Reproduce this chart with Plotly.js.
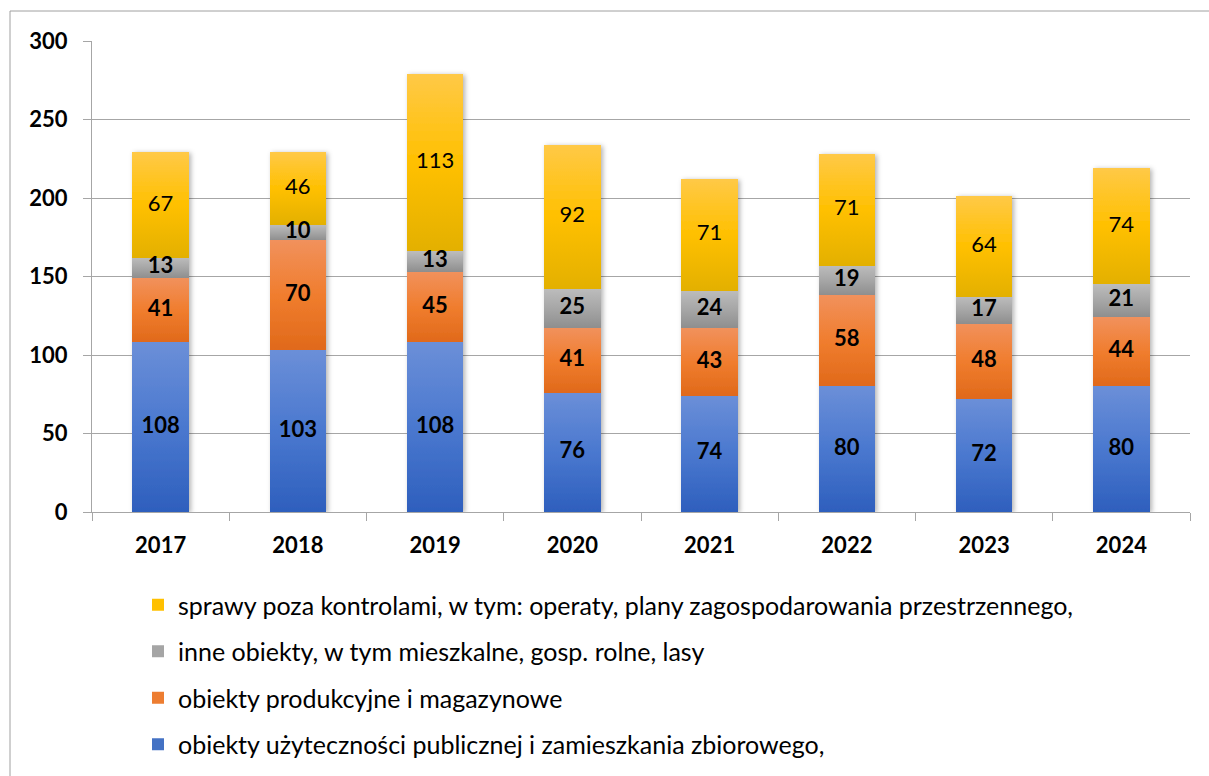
<!DOCTYPE html>
<html>
<head>
<meta charset="utf-8">
<script src="https://cdn.plot.ly/plotly-3.0.1.min.js"></script>
<style>
  html, body { margin: 0; padding: 0; background: #fff; }
  #chart { width: 1209px; height: 776px; }
</style>
</head>
<body>
<div id="chart"></div>
<script>
const years = ['2017', '2018', '2019', '2020', '2021', '2022', '2023', '2024'];
const publicObjects = [108, 103, 108, 76, 74, 80, 72, 80];
const productionObjects = [41, 70, 45, 41, 43, 58, 48, 44];
const otherObjects = [13, 10, 13, 25, 24, 19, 17, 21];
const nonInspection = [67, 46, 113, 92, 71, 71, 64, 74];

const seriesNames = [
  'obiekty użyteczności publicznej i zamieszkania zbiorowego,',
  'obiekty produkcyjne i magazynowe',
  'inne obiekty, w tym mieszkalne, gosp. rolne, lasy',
  'sprawy poza kontrolami, w tym: operaty, plany zagospodarowania przestrzennego,'
];
const seriesData = [publicObjects, productionObjects, otherObjects, nonInspection];
const seriesColors = ['#4472c4', '#ed7d31', '#a5a5a5', '#ffc000'];
// gradient stops (top, middle, bottom) for an Office-like look
const gradientStops = [
  ['#6b8fd8', '#4a78cf', '#2e5fbd'],
  ['#f1915c', '#f07d2e', '#e0691a'],
  ['#bcbcbc', '#a6a6a6', '#8e8e8e'],
  ['#ffc947', '#ffc000', '#e3b000']
];
const labelWeights = ['bold', 'bold', 'bold', 'normal'];

const FONT = 'Lato, "Liberation Sans", sans-serif';

const traces = [];
seriesData.forEach((vals, i) => {
  traces.push({
    type: 'bar',
    x: years,
    y: vals,
    name: seriesNames[i],
    legendgroup: 'g' + i,
    legendrank: 4 - i,
    marker: { color: seriesColors[i], line: { width: 0 } },
    width: 0.41,
    hoverinfo: 'x+y+name'
  });
});

// data labels, centred in each segment
const cum = years.map(() => 0);
seriesData.forEach((vals, i) => {
  const mids = vals.map((v, j) => cum[j] + v / 2);
  vals.forEach((v, j) => { cum[j] += v; });
  traces.push({
    type: 'scatter',
    mode: 'text',
    x: years,
    y: mids,
    text: vals.map(String),
    textposition: 'middle center',
    textfont: { family: FONT, size: 22, color: '#000', weight: labelWeights[i] },
    showlegend: false,
    hoverinfo: 'skip'
  });
});

const plotLeft = 92, plotRight = 1190, plotTop = 41, plotBottom = 512;
const pw = plotRight - plotLeft, ph = plotBottom - plotTop;
const px = p => (p - plotLeft) / pw;
const py = p => (plotBottom - p) / ph;

const layout = {
  width: 1209,
  height: 776,
  margin: { l: plotLeft, r: 1209 - plotRight, t: plotTop, b: 776 - plotBottom, pad: 0, autoexpand: false },
  paper_bgcolor: '#fff',
  plot_bgcolor: '#fff',
  barmode: 'stack',
  font: { family: FONT, color: '#000' },
  showlegend: true,
  legend: {
    orientation: 'v',
    traceorder: 'grouped',
    tracegroupgap: 11,
    x: px(138),
    xanchor: 'left',
    y: py(582),
    yanchor: 'top',
    font: { family: FONT, size: 25, color: '#000' },
    bgcolor: 'rgba(0,0,0,0)'
  },
  xaxis: {
    type: 'category',
    range: [-0.5, 7.5],
    showgrid: false,
    showline: true,
    linecolor: '#a6a6a6',
    linewidth: 1,
    ticks: 'outside',
    tickson: 'boundaries',
    ticklen: 8,
    tickcolor: '#a6a6a6',
    tickfont: { family: FONT, size: 22, color: '#000', weight: 'bold' },
    ticklabelstandoff: 14,
    automargin: false,
    fixedrange: true
  },
  yaxis: {
    range: [0, 300],
    dtick: 50,
    tick0: 0,
    showgrid: true,
    gridcolor: '#a6a6a6',
    gridwidth: 1,
    showline: true,
    linecolor: '#a6a6a6',
    linewidth: 1,
    zeroline: false,
    ticks: 'outside',
    ticklen: 8,
    tickcolor: '#a6a6a6',
    tickfont: { family: FONT, size: 22, color: '#000', weight: 'bold' },
    ticklabelstandoff: 11,
    automargin: false,
    fixedrange: true
  },
  shapes: [{
    type: 'rect',
    xref: 'paper', yref: 'paper',
    x0: px(10), x1: px(1240),
    y0: py(800), y1: py(11),
    line: { color: '#a0a0a0', width: 1 },
    fillcolor: 'rgba(0,0,0,0)',
    layer: 'below'
  }]
};

function applyGradients(gd) {
  try {
    const svg = gd.querySelector('svg.main-svg');
    if (!svg) return;
    const ns = 'http://www.w3.org/2000/svg';
    let defs = svg.querySelector('defs');
    if (!defs) { defs = document.createElementNS(ns, 'defs'); svg.insertBefore(defs, svg.firstChild); }
    gradientStops.forEach((stops, i) => {
      const lg = document.createElementNS(ns, 'linearGradient');
      lg.setAttribute('id', 'barGrad' + i);
      lg.setAttribute('x1', '0'); lg.setAttribute('y1', '0');
      lg.setAttribute('x2', '0'); lg.setAttribute('y2', '1');
      [[0, stops[0]], [0.5, stops[1]], [1, stops[2]]].forEach(([o, c]) => {
        const s = document.createElementNS(ns, 'stop');
        s.setAttribute('offset', o);
        s.setAttribute('stop-color', c);
        lg.appendChild(s);
      });
      defs.appendChild(lg);
    });
    const flt = document.createElementNS(ns, 'filter');
    flt.setAttribute('id', 'barShadow');
    flt.setAttribute('x', '-20%'); flt.setAttribute('y', '-5%');
    flt.setAttribute('width', '140%'); flt.setAttribute('height', '110%');
    const ds = document.createElementNS(ns, 'feDropShadow');
    ds.setAttribute('dx', '2'); ds.setAttribute('dy', '1');
    ds.setAttribute('stdDeviation', '2.5');
    ds.setAttribute('flood-color', '#000'); ds.setAttribute('flood-opacity', '0.3');
    flt.appendChild(ds);
    defs.appendChild(flt);

    const barTraces = gd.querySelectorAll('g.barlayer g.trace.bars');
    barTraces.forEach((tg, i) => {
      if (i === 0) tg.parentNode.setAttribute('filter', 'url(#barShadow)');
      tg.querySelectorAll('g.point path').forEach(p => {
        p.style.fill = 'url(#barGrad' + i + ')';
      });
    });
  } catch (e) { /* keep solid fills */ }
}

Plotly.newPlot('chart', traces, layout, { displayModeBar: false, staticPlot: true })
  .then(gd => applyGradients(gd));
</script>
</body>
</html>
